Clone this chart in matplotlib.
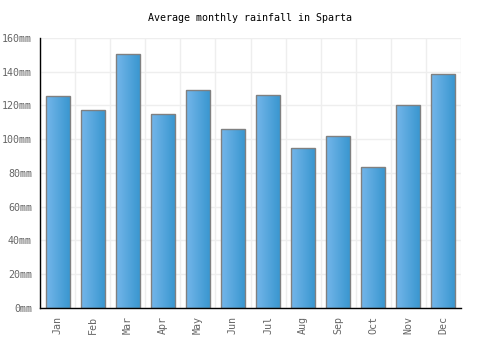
#!/usr/bin/env python3

import numpy as np
import matplotlib.pyplot as plt
from matplotlib.colors import LinearSegmentedColormap

# ─── DATA ────────────────────────────────────────────────────────────────
months = ["Jan", "Feb", "Mar", "Apr", "May", "Jun",
          "Jul", "Aug", "Sep", "Oct", "Nov", "Dec"]
rainfall = [125.3, 117.2, 150.4, 114.8, 129.0, 105.9,
            126.0, 94.6, 101.7, 83.4, 120.1, 138.5]
yticks = [0, 20, 40, 60, 80, 100, 120, 140, 160]

# ─── STYLE ───────────────────────────────────────────────────────────────
plt.rcParams.update({
    "font.family": "DejaVu Sans Mono",
    "font.size": 7.2,
})

bar_w = 0.67
grad = LinearSegmentedColormap.from_list("bar", ["#74b6ea", "#3a97d0"])

fig = plt.figure(figsize=(5, 3.5), dpi=100)
ax = fig.add_axes([0.0806, 0.12, 0.8408, 0.772])

x = np.arange(len(months))
ax.set_xlim(-0.5, len(months) - 0.5)
ax.set_ylim(0, 160)

# gradient fill for every bar, then outline on top
gradient = np.linspace(0, 1, 64).reshape(1, -1)
for xi, val in zip(x, rainfall):
    ax.imshow(gradient, cmap=grad, aspect="auto", zorder=2,
              extent=(xi - bar_w / 2, xi + bar_w / 2, 0, val))
ax.bar(x, rainfall, width=bar_w, facecolor="none",
       edgecolor="#808080", linewidth=1.0, zorder=3)

# grid
ax.set_yticks(yticks)
ax.set_yticklabels([f"{v}mm" for v in yticks])
ax.set_xticks(x)
ax.set_xticklabels(months, rotation=90)
ax.set_xticks(np.arange(-0.5, len(months), 1), minor=True)
ax.grid(True, which="major", axis="y", color="#eeeeee", linewidth=1, zorder=0)
ax.grid(True, which="minor", axis="x", color="#eeeeee", linewidth=1, zorder=0)
ax.set_axisbelow(True)

ax.tick_params(axis="both", which="both", length=0, colors="#666666",
               labelsize=7.2)
ax.tick_params(axis="x", pad=6)
ax.tick_params(axis="y", pad=6)

for side in ["top", "right"]:
    ax.spines[side].set_visible(False)
for side in ["left", "bottom"]:
    ax.spines[side].set_color("black")
    ax.spines[side].set_linewidth(1.0)
    ax.spines[side].set_zorder(4)

fig.text(0.5, 0.949, "Average monthly rainfall in Sparta",
         ha="center", va="center", fontsize=7.2, color="black")

plt.savefig("out.png", dpi=100)
